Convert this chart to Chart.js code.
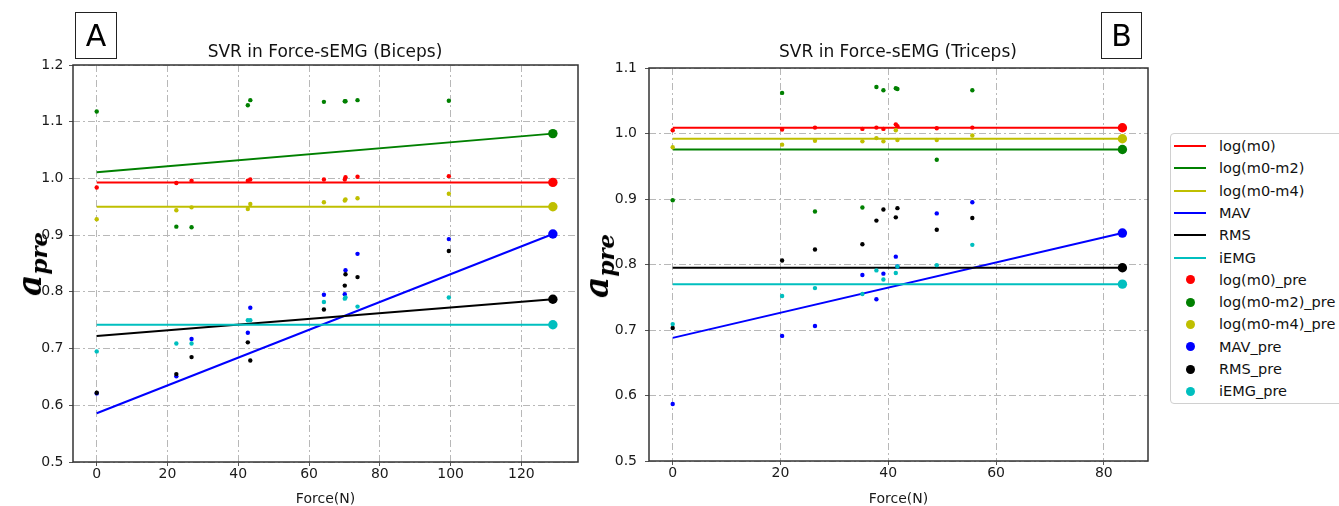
<!DOCTYPE html>
<html><head><meta charset="utf-8">
<script src="https://cdn.jsdelivr.net/npm/chart.js@4.4.1/dist/chart.umd.min.js"></script>
<style>
html,body{margin:0;padding:0;background:#fff;}
body{width:1339px;height:506px;position:relative;overflow:hidden;font-family:'DejaVu Sans',sans-serif;}
.abs{position:absolute;}
canvas{position:absolute;top:0;}
#cA{left:0;}
#cB{left:600px;}
.title{font-size:17px;color:#111;text-align:center;white-space:nowrap;line-height:20px;top:41px;}
.panel{border:1.5px solid #222;font-size:30px;text-align:center;line-height:45px;color:#000;box-sizing:border-box;top:12px;height:47px;}
.ylab{font-family:'DejaVu Serif',serif;font-style:italic;font-weight:bold;white-space:nowrap;transform:translate(-50%,-50%) rotate(-90deg);color:#000;line-height:36px;}
.ylab .a{font-size:33px;}
.ylab sub{font-size:23px;vertical-align:baseline;position:relative;top:6px;}
#legend{left:1170px;top:133px;width:175px;height:271px;border:1px solid #d0d0d0;border-radius:4px;box-sizing:border-box;background:#fff;}
.row{position:absolute;left:0;width:170px;height:22px;}
.row .ln{position:absolute;left:3px;width:32px;height:2px;top:10px;}
.row .dot{position:absolute;left:15px;width:9px;height:9px;border-radius:50%;top:6.5px;}
.row .tx{position:absolute;left:48px;top:0;font-size:14.5px;line-height:22px;color:#111;white-space:nowrap;}
</style>
</head>
<body>
<canvas id="cA" width="600" height="510"></canvas>
<canvas id="cB" width="560" height="510"></canvas>
<div class="abs title" style="left:125px;width:400px;">SVR in Force-sEMG (Biceps)</div>
<div class="abs title" style="left:698px;width:400px;">SVR in Force-sEMG (Triceps)</div>
<div class="abs panel" style="left:75px;width:42px;">A</div>
<div class="abs panel" style="left:1101px;width:41px;">B</div>
<div class="abs ylab" style="left:33px;top:264px;"><span class="a">a</span><sub>pre</sub></div>
<div class="abs ylab" style="left:600px;top:266px;"><span class="a">a</span><sub>pre</sub></div>
<div class="abs" id="legend"></div>
<script>
// ---- Data: panel A (Biceps) ----
const forceA = [0, 22.5, 26.8, 42.7, 43.4, 64.2, 70.1, 70.3, 73.7, 99.5];
const logM0PreA   = [0.984, 0.992, 0.996, 0.996, 0.998, 0.998, 0.998, 1.002, 1.003, 1.004];
const logM0M2PreA = [1.118, 0.915, 0.914, 1.129, 1.138, 1.135, 1.136, 1.136, 1.138, 1.137];
const logM0M4PreA = [0.928, 0.944, 0.949, 0.946, 0.955, 0.958, 0.961, 0.963, 0.965, 0.973];
const mavPreA     = [0.621, 0.651, 0.717, 0.728, 0.772, 0.795, 0.796, 0.838, 0.867, 0.893];
const rmsPreA     = [0.622, 0.655, 0.685, 0.711, 0.679, 0.769, 0.811, 0.831, 0.826, 0.872];
const iemgPreA    = [0.695, 0.709, 0.709, 0.750, 0.750, 0.782, 0.788, 0.790, 0.774, 0.790];
const fitForceA   = [0, 128.9];
const logM0FitA   = [0.993, 0.993];
const logM0M2FitA = [1.011, 1.079];
const logM0M4FitA = [0.950, 0.950];
const mavFitA     = [0.586, 0.902];
const rmsFitA     = [0.722, 0.787];
const iemgFitA    = [0.742, 0.742];
const xTicksA = [0, 20, 40, 60, 80, 100, 120];
const yTicksA = [0.5, 0.6, 0.7, 0.8, 0.9, 1.0, 1.1, 1.2];

// ---- Data: panel B (Triceps) ----
const forceB = [0, 20.3, 26.4, 35.2, 37.8, 39.1, 41.4, 41.7, 49.0, 55.6];
const logM0PreB   = [1.005, 1.006, 1.009, 1.007, 1.009, 1.007, 1.014, 1.011, 1.008, 1.009];
const logM0M2PreB = [0.898, 1.062, 0.881, 0.887, 1.071, 1.066, 1.069, 1.068, 0.960, 1.066];
const logM0M4PreB = [0.979, 0.983, 0.989, 0.988, 0.993, 0.988, 1.005, 0.990, 0.990, 0.997];
const mavPreB     = [0.587, 0.691, 0.706, 0.784, 0.747, 0.786, 0.812, 0.797, 0.878, 0.895];
const rmsPreB     = [0.703, 0.806, 0.823, 0.831, 0.867, 0.884, 0.872, 0.886, 0.853, 0.871];
const iemgPreB    = [0.709, 0.752, 0.764, 0.755, 0.791, 0.777, 0.787, 0.797, 0.799, 0.830];
const fitForceB   = [0, 83.45];
const logM0FitB   = [1.0087, 1.0087];
const logM0M2FitB = [0.9755, 0.9755];
const logM0M4FitB = [0.992, 0.992];
const mavFitB     = [0.688, 0.848];
const rmsFitB     = [0.795, 0.795];
const iemgFitB    = [0.770, 0.770];
const xTicksB = [0, 20, 40, 60, 80];
const yTicksB = [0.5, 0.6, 0.7, 0.8, 0.9, 1.0, 1.1];

const seriesNames = ['log(m0)', 'log(m0-m2)', 'log(m0-m4)', 'MAV', 'RMS', 'iEMG'];
const seriesColors = ['#ff0000', '#008000', '#bfbf00', '#0000ff', '#000000', '#00bfbf'];

Chart.defaults.font.family = "'DejaVu Sans', sans-serif";

const framePlugin = {
  id: 'frame',
  afterDraw(chart) {
    const {ctx, chartArea: a} = chart;
    ctx.save();
    ctx.strokeStyle = '#333';
    ctx.lineWidth = 1.5;
    ctx.strokeRect(a.left, a.top, a.right - a.left, a.bottom - a.top);
    ctx.restore();
  }
};

function makeChart(id, force, pres, fitX, fits, xb, yb, xTicks, yTicks, cfg) {
  const datasets = [];
  seriesNames.forEach((n, i) => {
    datasets.push({
      label: n,
      data: fitX.map((x, j) => ({x: x, y: fits[i][j]})),
      showLine: true,
      borderColor: seriesColors[i],
      backgroundColor: seriesColors[i],
      borderWidth: 2,
      pointRadius: ctx => ctx.dataIndex === fitX.length - 1 ? 4.7 : 0,
      pointBorderWidth: 0,
      fill: false,
      order: 100 - i
    });
  });
  seriesNames.forEach((n, i) => {
    datasets.push({
      label: n + '_pre',
      data: force.map((x, j) => ({x: x, y: pres[i][j]})),
      showLine: false,
      backgroundColor: seriesColors[i],
      borderColor: seriesColors[i],
      pointRadius: 2.2,
      pointBorderWidth: 0,
      order: 50 - i
    });
  });
  const gridDash = [7, 3, 2, 3];
  return new Chart(document.getElementById(id), {
    type: 'scatter',
    data: {datasets},
    plugins: [framePlugin],
    options: {
      responsive: false,
      animation: false,
      events: [],
      layout: {padding: cfg.pad},
      plugins: {legend: {display: false}, tooltip: {enabled: false}, title: {display: false}},
      scales: {
        x: {
          type: 'linear', min: xb[0], max: xb[1],
          afterBuildTicks: s => { s.ticks = xTicks.map(v => ({value: v})); },
          afterFit: s => { s.height = cfg.xh; },
          grid: {color: '#b8b8b8', lineWidth: 1, drawTicks: true, tickLength: 4, tickColor: '#555'},
          border: {display: false, dash: gridDash},
          ticks: {color: '#1a1a1a', font: {size: 14}, padding: 0, maxRotation: 0, callback: v => String(v)},
          title: {display: true, text: 'Force(N)', color: '#1a1a1a', font: {size: 14}, padding: {top: 0, bottom: 2}}
        },
        y: {
          type: 'linear', min: yb[0], max: yb[1],
          afterBuildTicks: s => { s.ticks = yTicks.map(v => ({value: v})); },
          afterFit: s => { s.width = cfg.yw; },
          grid: {color: '#b8b8b8', lineWidth: 1, drawTicks: true, tickLength: 4, tickColor: '#555'},
          border: {display: false, dash: gridDash},
          ticks: {color: '#1a1a1a', font: {size: 14}, padding: cfg.ypad, callback: v => Number(v).toFixed(1)}
        }
      }
    }
  });
}

makeChart('cA', forceA,
  [logM0PreA, logM0M2PreA, logM0M4PreA, mavPreA, rmsPreA, iemgPreA],
  fitForceA,
  [logM0FitA, logM0M2FitA, logM0M4FitA, mavFitA, rmsFitA, iemgFitA],
  [-6.7, 136], [0.5, 1.2], xTicksA, yTicksA,
  {pad: {top: 65, right: 22, left: 0, bottom: 0}, xh: 48, yw: 73, ypad: 5.5});

makeChart('cB', forceB,
  [logM0PreB, logM0M2PreB, logM0M4PreB, mavPreB, rmsPreB, iemgPreB],
  fitForceB,
  [logM0FitB, logM0M2FitB, logM0M4FitB, mavFitB, rmsFitB, iemgFitB],
  [-4.4, 88.2], [0.5, 1.1], xTicksB, yTicksB,
  {pad: {top: 68, right: 12, left: 0, bottom: 0}, xh: 49, yw: 49, ypad: 8});

// ---- Legend ----
const legend = document.getElementById('legend');
const items = [];
seriesNames.forEach((n, i) => items.push({name: n, color: seriesColors[i], kind: 'line'}));
seriesNames.forEach((n, i) => items.push({name: n + '_pre', color: seriesColors[i], kind: 'dot'}));
items.forEach((it, k) => {
  const row = document.createElement('div');
  row.className = 'row';
  row.style.top = (1 + k * 22.3) + 'px';
  const mk = document.createElement('div');
  mk.className = it.kind === 'line' ? 'ln' : 'dot';
  mk.style.background = it.color;
  const tx = document.createElement('div');
  tx.className = 'tx';
  tx.textContent = it.name;
  row.appendChild(mk);
  row.appendChild(tx);
  legend.appendChild(row);
});
</script>
</body></html>
